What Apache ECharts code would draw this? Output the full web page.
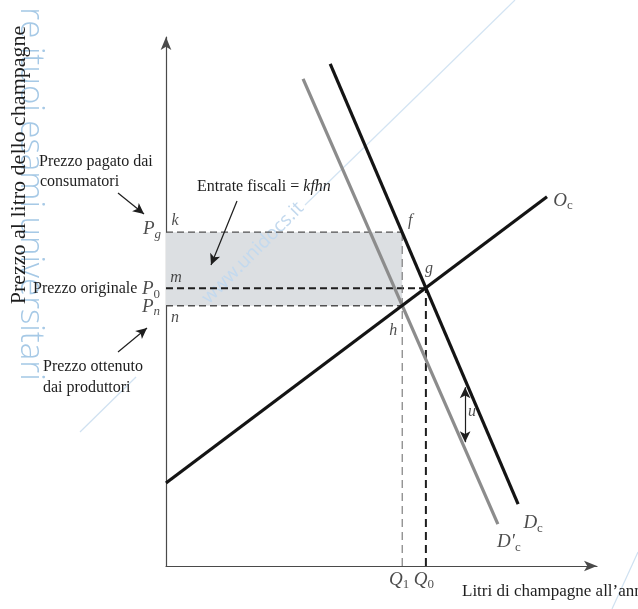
<!DOCTYPE html>
<html>
<head>
<meta charset="utf-8">
<script src="https://cdn.jsdelivr.net/npm/echarts@6/dist/echarts.min.js"></script>
<style>
  html, body { margin: 0; padding: 0; background: #fff; }
  #chart { width: 638px; height: 609px; }
</style>
</head>
<body>
<div id="chart"></div>
<script>
// Quantities on the horizontal axis: Q1 (with the tax) and Q0 (original equilibrium)
const quantityTicks = [54.8, 60.3];
const quantitySubs = ['1', '0'];
// Prices: Pg (paid by consumers), P0 (original), Pn (received by producers)
const priceTicks = [63.1, 52.5, 49.2];
const priceSubs = ['g', '0', 'n'];
const priceSubItalic = [true, false, true];
// Curve endpoints
const supplyLine = [[0, 15.7], [88.4, 69.8]];
const demandLine = [[38.1, 94.9], [81.7, 11.7]];
const demandTaxedLine = [[31.8, 92.1], [77.0, 7.9]];
// Vertical tax wedge u between the two demand curves
const taxWedge = [[69.4, 33.8], [69.4, 23.4]];

const [Q1, Q0] = quantityTicks;
const [Pg, P0, Pn] = priceTicks;

const SERIF = '"Liberation Serif", "DejaVu Serif", serif';
const INK = '#1e1e1e';

const rich = {
  it: { fontFamily: SERIF, fontStyle: 'italic', fontSize: 19, color: INK },
  up: { fontFamily: SERIF, fontSize: 19, color: INK },
  sub: { fontFamily: SERIF, fontSize: 13, color: INK, padding: [10, 0, 0, 0] },
  subIt: { fontFamily: SERIF, fontStyle: 'italic', fontSize: 13, color: INK, padding: [10, 0, 0, 0] },
  pt: { fontFamily: SERIF, fontStyle: 'italic', fontSize: 16, color: INK }
};

function pointLabel(value, text, offset) {
  return {
    value: value,
    label: { show: true, position: 'inside', formatter: text, offset: offset, rich: rich }
  };
}

const labelData = [
  // prices on the vertical axis
  pointLabel([0, Pg], '{it|P}{' + (priceSubItalic[0] ? 'subIt' : 'sub') + '|' + priceSubs[0] + '}', [-14, -3]),
  pointLabel([0, P0], '{it|P}{' + (priceSubItalic[1] ? 'subIt' : 'sub') + '|' + priceSubs[1] + '}', [-15, 1]),
  pointLabel([0, Pn], '{it|P}{' + (priceSubItalic[2] ? 'subIt' : 'sub') + '|' + priceSubs[2] + '}', [-15, 1]),
  // quantities on the horizontal axis
  pointLabel([Q1, 0], '{it|Q}{sub|' + quantitySubs[0] + '}', [-3, 14]),
  pointLabel([Q0, 0], '{it|Q}{sub|' + quantitySubs[1] + '}', [-2, 14]),
  // corner points
  pointLabel([0, Pg], '{pt|k}', [9, -11]),
  pointLabel([0, P0], '{pt|m}', [10, -10]),
  pointLabel([0, Pn], '{pt|n}', [9, 12]),
  pointLabel([Q1, Pg], '{pt|f}', [8, -11]),
  pointLabel([Q0, P0], '{pt|g}', [3, -19]),
  pointLabel([Q1, Pn], '{pt|h}', [-9, 25]),
  // curve names
  pointLabel(supplyLine[1], '{it|O}{sub|c}', [16, 4]),
  pointLabel(demandLine[1], '{it|D}{sub|c}', [15, 19]),
  pointLabel(demandTaxedLine[1], '{it|D′}{sub|c}', [11, 18]),
  pointLabel([taxWedge[0][0], (taxWedge[0][1] + taxWedge[1][1]) / 2], '{pt|u}', [7, -3])
];

function lineSeries(data, color, width, type, z) {
  return {
    type: 'line', data: data, symbol: 'none', silent: true, z: z || 3,
    lineStyle: { color: color, width: width, type: type || 'solid', cap: 'butt' },
    animation: false
  };
}

const chart = echarts.init(document.getElementById('chart'), null, { renderer: 'canvas' });

const option = {
  backgroundColor: '#ffffff',
  animation: false,
  grid: { left: 166, right: 41, top: 37, bottom: 43 },
  xAxis: {
    type: 'value', min: 0, max: 100,
    axisLine: { show: true, onZero: false, symbol: ['none', 'arrow'], symbolSize: [8, 13], lineStyle: { color: '#4a4a4a', width: 1.2 } },
    axisTick: { show: false }, axisLabel: { show: false }, splitLine: { show: false }
  },
  yAxis: {
    type: 'value', min: 0, max: 100,
    axisLine: { show: true, onZero: false, symbol: ['none', 'arrow'], symbolSize: [8, 13], lineStyle: { color: '#4a4a4a', width: 1.2 } },
    axisTick: { show: false }, axisLabel: { show: false }, splitLine: { show: false }
  },
  graphic: [
    // watermark strokes
    { type: 'polyline', z: 0, silent: true, shape: { points: [[80, 432], [136, 377]] }, style: { stroke: '#cfe1f1', lineWidth: 1.2, fill: null } },
    { type: 'polyline', z: 0, silent: true, shape: { points: [[305, 205], [420, 93], [515, 0]] }, style: { stroke: '#d3e4f3', lineWidth: 1.2, fill: null } },
    { type: 'polyline', z: 0, silent: true, shape: { points: [[612, 609], [638, 552]] }, style: { stroke: '#cfe1f1', lineWidth: 1.2, fill: null } },
    { type: 'text', z: 0, silent: true, x: 30, y: 194, rotation: -Math.PI / 2,
      style: { text: 're ituoi esami universitari', font: '300 33px "Open Sans", "DejaVu Sans", sans-serif', fill: '#a6c9e6', align: 'center', verticalAlign: 'middle' } },
    { type: 'text', z: 2, silent: true, x: 253, y: 253, rotation: Math.PI / 4,
      style: { text: 'www.unidocs.it', font: '19px "Open Sans", "DejaVu Sans", sans-serif', fill: '#c3d9ee', align: 'center', verticalAlign: 'middle' } },
    // axis titles
    { type: 'text', z: 10, silent: true, x: 19, y: 165, rotation: Math.PI / 2,
      style: { text: 'Prezzo al litro dello champagne', font: '22px ' + SERIF, fill: INK, align: 'center', verticalAlign: 'middle' } },
    { type: 'text', z: 10, silent: true, x: 462, y: 592,
      style: { text: 'Litri di champagne all’anno', font: '17px ' + SERIF, fill: INK, align: 'left', verticalAlign: 'middle' } },
    // annotations
    { type: 'text', z: 10, silent: true, x: 39, y: 162,
      style: { text: 'Prezzo pagato dai', font: '16px ' + SERIF, fill: INK, align: 'left', verticalAlign: 'middle' } },
    { type: 'text', z: 10, silent: true, x: 40, y: 182,
      style: { text: 'consumatori', font: '16px ' + SERIF, fill: INK, align: 'left', verticalAlign: 'middle' } },
    { type: 'text', z: 10, silent: true, x: 33, y: 289,
      style: { text: 'Prezzo originale', font: '16px ' + SERIF, fill: INK, align: 'left', verticalAlign: 'middle' } },
    { type: 'text', z: 10, silent: true, x: 43, y: 367,
      style: { text: 'Prezzo ottenuto', font: '16px ' + SERIF, fill: INK, align: 'left', verticalAlign: 'middle' } },
    { type: 'text', z: 10, silent: true, x: 43, y: 388,
      style: { text: 'dai produttori', font: '16px ' + SERIF, fill: INK, align: 'left', verticalAlign: 'middle' } },
    { type: 'text', z: 10, silent: true, x: 197, y: 187,
      style: {
        text: '{a|Entrate fiscali = }{b|kfhn}', align: 'left', verticalAlign: 'middle',
        rich: {
          a: { fontFamily: SERIF, fontSize: 16, fill: INK, color: INK },
          b: { fontFamily: SERIF, fontSize: 16, fontStyle: 'italic', fill: INK, color: INK }
        }
      } }
  ],
  series: [
    // tax revenue rectangle kfhn
    {
      type: 'custom', z: 1, silent: true, animation: false,
      data: [[0, Pn, Q1, Pg]],
      renderItem: function (params, api) {
        const p1 = api.coord([api.value(0), api.value(3)]);
        const p2 = api.coord([api.value(2), api.value(1)]);
        return { type: 'rect', shape: { x: p1[0], y: p1[1], width: p2[0] - p1[0], height: p2[1] - p1[1] }, style: { fill: '#dcdfe2' } };
      }
    },
    // dashed guides
    lineSeries([[0, Pg], [Q1, Pg]], '#505050', 1.3, [7, 4]),
    lineSeries([[0, Pn], [Q1, Pn]], '#505050', 1.3, [7, 4]),
    lineSeries([[0, P0], [Q0, P0]], '#1e1e1e', 2, [7, 4]),
    lineSeries([[Q1, 0], [Q1, Pg]], '#666666', 1, [8, 5]),
    lineSeries([[Q0, 0], [Q0, P0]], '#1e1e1e', 2, [8, 5]),
    // curves
    lineSeries(demandTaxedLine, '#8c8c8c', 3.2, 'solid', 4),
    lineSeries(demandLine, '#141414', 3.2, 'solid', 5),
    lineSeries(supplyLine, '#141414', 3.2, 'solid', 5),
    // annotation arrows
    {
      type: 'line', data: [], silent: true, z: 6,
      markLine: {
        silent: true, animation: false, symbol: ['none', 'arrow'], symbolSize: [8, 11],
        label: { show: false }, emphasis: { disabled: true },
        lineStyle: { color: INK, width: 1.2, type: 'solid' },
        data: [
          [{ x: 118, y: 193 }, { x: 144, y: 214 }],
          [{ x: 118, y: 352 }, { x: 147, y: 328 }],
          [{ x: 237, y: 201 }, { x: 211, y: 265 }]
        ]
      }
    },
    // tax wedge u
    {
      type: 'line', data: [], silent: true, z: 6,
      markLine: {
        silent: true, animation: false, symbol: ['arrow', 'arrow'], symbolSize: [8, 11],
        label: { show: false }, emphasis: { disabled: true },
        lineStyle: { color: INK, width: 1.2, type: 'solid' },
        data: [[{ coord: taxWedge[0] }, { coord: taxWedge[1] }]]
      }
    },
    // point and curve labels
    {
      type: 'scatter', z: 8, silent: true, clip: false, symbolSize: 1,
      itemStyle: { color: 'rgba(0,0,0,0)' },
      data: labelData, animation: false
    }
  ]
};

chart.setOption(option);
</script>
</body>
</html>
